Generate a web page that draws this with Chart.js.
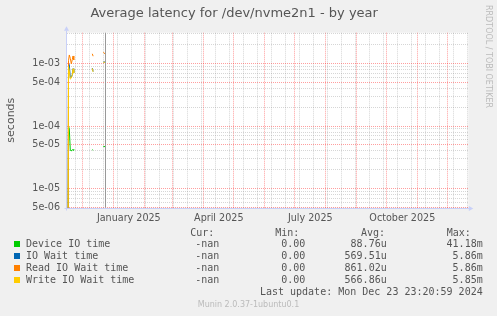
<!DOCTYPE html>
<html>
<head>
<meta charset="utf-8">
<title>Average latency for /dev/nvme2n1 - by year</title>
<script src="https://cdn.jsdelivr.net/npm/chart.js@4.4.1/dist/chart.umd.min.js"></script>
<style>
    html, body { margin: 0; padding: 0; background: #f0f0f0; }
    #wrap { position: relative; width: 497px; height: 316px; overflow: hidden; background: #f0f0f0; }
    #chart { position: absolute; left: 0; top: 0; }
    .txt { position: absolute; white-space: pre; height: 12px; line-height: 12px; font-size: 10px; font-family: 'DejaVu Sans Mono', monospace; color: #555; }
    .swatch { position: absolute; width: 6px; height: 6px; }
    #brand { position: absolute; left: 483px; top: 5px; writing-mode: vertical-rl; font-size: 8px; line-height: 10px; font-family: 'DejaVu Sans', sans-serif; color: #bbb; white-space: nowrap; }
    #version { position: absolute; left: 0; width: 497px; top: 300px; text-align: center; font-size: 8px; line-height: 10px; font-family: 'DejaVu Sans', sans-serif; color: #bbb; }
</style>
</head>
<body>
<div id="wrap">
    <canvas id="chart" width="497" height="316"></canvas>
    <div id="brand">RRDTOOL / TOBI OETIKER</div>
    <div id="version">Munin 2.0.37-1ubuntu0.1</div>
</div>
<script>
// x values are days counted from 2024-12-01
const xMin = -15.3;
const xMax = 386;
const monthStarts = [0, 31, 62, 90, 121, 151, 182, 212, 243, 274, 304, 335, 365];
const fortnights = [-7, 7, 21, 35, 49, 63, 77, 91, 105, 119, 133, 147, 161, 175, 189, 203, 217, 231, 245, 259, 273, 287, 301, 315, 329, 343, 357, 371, 385];
const xTickDays = [46.5, 136.5, 228, 320];
const xTickLabels = ['January 2025', 'April 2025', 'July 2025', 'October 2025'];

const yMin = 5e-6;
const yMax = 3.08e-3;
const yLabelValues = [5e-6, 1e-5, 5e-5, 1e-4, 5e-4, 1e-3];
const yLabelTexts = ['5e-06', '1e-05', '5e-05', '1e-04', '5e-04', '1e-03'];

// samples (seconds); null = no data, 0 = zero reading
const dayOffsets = [-14.6, -13.8, -13.0, -12.0, -11.0, -10.0, -9.3, -8.5, 0, 10.0, 10.8, 15, 21.0, 22.7];
const deviceIO  = [0, 1.0e-4, 9.0e-5, 4.1e-5, 4.0e-5, 4.2e-5, 4.1e-5, 4.3e-5, null, 4.2e-5, 4.1e-5, null, 4.7e-5, 4.7e-5];
const ioWait    = [0, 1.0e-3, 9.5e-4, 6.0e-4, 6.0e-4, 6.6e-4, 8.2e-4, 7.1e-4, null, 8.4e-4, 7.4e-4, null, 1.05e-3, 1.05e-3];
const readWait  = [0, 1.1e-3, 1.36e-3, 1.2e-3, 9.8e-4, 1.15e-3, 1.31e-3, 1.13e-3, null, 1.42e-3, 1.3e-3, null, 1.5e-3, 1.42e-3];
const writeWait = [0, 9.0e-4, 7.5e-4, 5.6e-4, 5.8e-4, 6.5e-4, 8.2e-4, 7.0e-4, null, 8.3e-4, 7.3e-4, null, 1.04e-3, 1.04e-3];
const nowDay = 22.7;

const seriesNames = ['Device IO time', 'IO Wait time', 'Read IO Wait time', 'Write IO Wait time'];
const seriesColors = ['#00cc00', '#0066b3', '#ff8000', '#ffcc00'];
const curValues = ['-nan', '-nan', '-nan', '-nan'];
const minValues = ['0.00', '0.00', '0.00', '0.00'];
const avgValues = ['88.76u', '569.51u', '861.02u', '566.86u'];
const maxValues = ['41.18m', '5.86m', '5.86m', '5.85m'];
const lastUpdate = 'Last update: Mon Dec 23 23:20:59 2024';

const majorGrid = 'rgba(255, 0, 0, 0.38)';
const minorGrid = 'rgba(128, 128, 128, 0.32)';
const axisColor = '#c8d0f8';
const textColor = '#555';
const zeroFloor = 1e-9; // log axis cannot show 0, draw it below the floor

Chart.defaults.font.family = "'DejaVu Sans', sans-serif";

function points(values) {
    return dayOffsets.map((d, i) => ({
        x: d,
        y: values[i] === null ? null : (values[i] === 0 ? zeroFloor : values[i])
    }));
}

function significand(v) {
    const e = Math.floor(Math.log10(v) + 1e-9);
    return Math.round(v / Math.pow(10, e));
}

function yGridTicks() {
    const ticks = [];
    for (let e = -6; e <= -3; e++) {
        for (let m = 1; m <= 9; m++) {
            const v = Number((m * Math.pow(10, e)).toPrecision(3));
            if (v >= yMin && v <= yMax) ticks.push({ value: v });
        }
    }
    return ticks;
}

const frame = {
    id: 'frame',
    beforeDraw(chart) {
        const { ctx, chartArea: a } = chart;
        ctx.save();
        ctx.fillStyle = '#ffffff';
        ctx.fillRect(a.left, a.top, a.right - a.left, a.bottom - a.top);
        ctx.restore();
    },
    beforeDatasetsDraw(chart) {
        const { ctx, chartArea: a } = chart;
        const x = Math.round(chart.scales.x.getPixelForValue(nowDay)) + 0.5;
        ctx.save();
        ctx.strokeStyle = '#999';
        ctx.lineWidth = 1;
        ctx.beginPath();
        ctx.moveTo(x, a.top);
        ctx.lineTo(x, a.bottom);
        ctx.stroke();
        ctx.restore();
    },
    afterDatasetsDraw(chart) {
        const { ctx, chartArea: a } = chart;
        const xl = Math.round(a.left) - 0.5;
        const yb = Math.round(a.bottom) + 0.5;
        ctx.save();
        ctx.strokeStyle = axisColor;
        ctx.fillStyle = axisColor;
        ctx.lineWidth = 1;
        ctx.beginPath();
        ctx.moveTo(xl, yb + 2);
        ctx.lineTo(xl, a.top - 2);
        ctx.moveTo(xl - 2, yb);
        ctx.lineTo(a.right + 1, yb);
        ctx.stroke();
        // arrows
        ctx.beginPath();
        ctx.moveTo(xl - 2.5, a.top - 2);
        ctx.lineTo(xl + 2.5, a.top - 2);
        ctx.lineTo(xl, a.top - 6.5);
        ctx.closePath();
        ctx.fill();
        ctx.beginPath();
        ctx.moveTo(a.right + 0.5, yb - 2.5);
        ctx.lineTo(a.right + 0.5, yb + 2.5);
        ctx.lineTo(a.right + 5, yb);
        ctx.closePath();
        ctx.fill();
        ctx.restore();
    }
};

function makeDataset(label, values, color, order) {
    return {
        label: label,
        data: points(values),
        borderColor: color,
        backgroundColor: color,
        borderWidth: 1,
        pointRadius: 0,
        tension: 0,
        spanGaps: false,
        fill: false,
        order: order,
        xAxisID: 'x',
        yAxisID: 'y'
    };
}

new Chart(document.getElementById('chart'), {
    type: 'line',
    data: {
        datasets: [
            makeDataset(seriesNames[0], deviceIO, seriesColors[0], 4),
            makeDataset(seriesNames[1], ioWait, seriesColors[1], 3),
            makeDataset(seriesNames[2], readWait, seriesColors[2], 2),
            makeDataset(seriesNames[3], writeWait, seriesColors[3], 1)
        ]
    },
    options: {
        responsive: false,
        animation: false,
        layout: { padding: { left: 0, right: 28.7, top: 0, bottom: 88.4 } },
        plugins: {
            legend: { display: false },
            tooltip: { enabled: false },
            title: {
                display: true,
                text: 'Average latency for /dev/nvme2n1 - by year',
                color: textColor,
                font: { size: 13, weight: 'normal' },
                padding: { top: 6.2, bottom: 10.9 }
            }
        },
        scales: {
            x: {
                type: 'linear',
                position: 'bottom',
                min: xMin,
                max: xMax,
                afterBuildTicks: function(scale) {
                    scale.ticks = fortnights.concat(monthStarts)
                        .filter(v => v >= xMin && v <= xMax)
                        .sort((a, b) => a - b)
                        .map(v => ({ value: v }));
                },
                afterFit: function(scale) { scale.height = 0; },
                ticks: { display: false, autoSkip: false },
                grid: {
                    drawTicks: false,
                    color: function(c) {
                        return c.tick && monthStarts.includes(c.tick.value) ? majorGrid : minorGrid;
                    }
                },
                border: { display: false, dash: [1, 1] }
            },
            xLabels: {
                type: 'linear',
                position: 'bottom',
                min: xMin,
                max: xMax,
                afterBuildTicks: function(scale) {
                    scale.ticks = xTickDays.map(v => ({ value: v }));
                },
                afterFit: function(scale) { scale.height = 20; },
                grid: { display: false },
                border: { display: false },
                ticks: {
                    autoSkip: false,
                    maxRotation: 0,
                    padding: -2.5,
                    color: textColor,
                    font: { size: 9.6 },
                    callback: function(value, index) { return xTickLabels[index]; }
                }
            },
            y: {
                type: 'logarithmic',
                min: yMin,
                max: yMax,
                afterBuildTicks: function(scale) { scale.ticks = yGridTicks(); },
                afterFit: function(scale) { scale.width = 67; },
                ticks: {
                    autoSkip: false,
                    padding: 7,
                    color: textColor,
                    font: { size: 9.6 },
                    callback: function(value) {
                        const i = yLabelValues.findIndex(v => Math.abs(v - value) / v < 1e-6);
                        return i >= 0 ? yLabelTexts[i] : '';
                    }
                },
                grid: {
                    drawTicks: false,
                    color: function(c) {
                        if (!c.tick) return minorGrid;
                        const s = significand(c.tick.value);
                        return s === 1 || s === 5 ? majorGrid : minorGrid;
                    }
                },
                border: { display: false, dash: [1, 1] },
                title: {
                    display: true,
                    text: 'seconds',
                    color: textColor,
                    font: { size: 11 },
                    padding: { top: 4.5, bottom: 0 }
                }
            }
        }
    },
    plugins: [frame]
});

// legend table under the plot
function addText(text, opts) {
    const el = document.createElement('div');
    el.className = 'txt';
    el.textContent = text;
    el.style.top = (opts.cy - 6) + 'px';
    if (opts.right !== undefined) {
        el.style.right = (497 - opts.right) + 'px';
        el.style.textAlign = 'right';
    } else {
        el.style.left = opts.left + 'px';
    }
    document.getElementById('wrap').appendChild(el);
}

const headerY = 232.7;
const firstRowY = 244.3;
const rowStep = 12;
addText('Cur:', { left: 190.3, cy: headerY });
addText('Min:', { left: 275.3, cy: headerY });
addText('Avg:', { left: 361, cy: headerY });
addText('Max:', { left: 446.7, cy: headerY });

seriesNames.forEach((name, i) => {
    const cy = firstRowY + i * rowStep;
    const sw = document.createElement('div');
    sw.className = 'swatch';
    sw.style.left = '14px';
    sw.style.top = (cy - 3) + 'px';
    sw.style.background = seriesColors[i];
    document.getElementById('wrap').appendChild(sw);
    addText(name, { left: 26, cy: cy });
    addText(curValues[i], { right: 219.3, cy: cy });
    addText(minValues[i], { right: 305.3, cy: cy });
    addText(avgValues[i], { right: 386.7, cy: cy });
    addText(maxValues[i], { right: 482.7, cy: cy });
});
addText(lastUpdate, { right: 482.7, cy: firstRowY + 4 * rowStep });
</script>
</body>
</html>
